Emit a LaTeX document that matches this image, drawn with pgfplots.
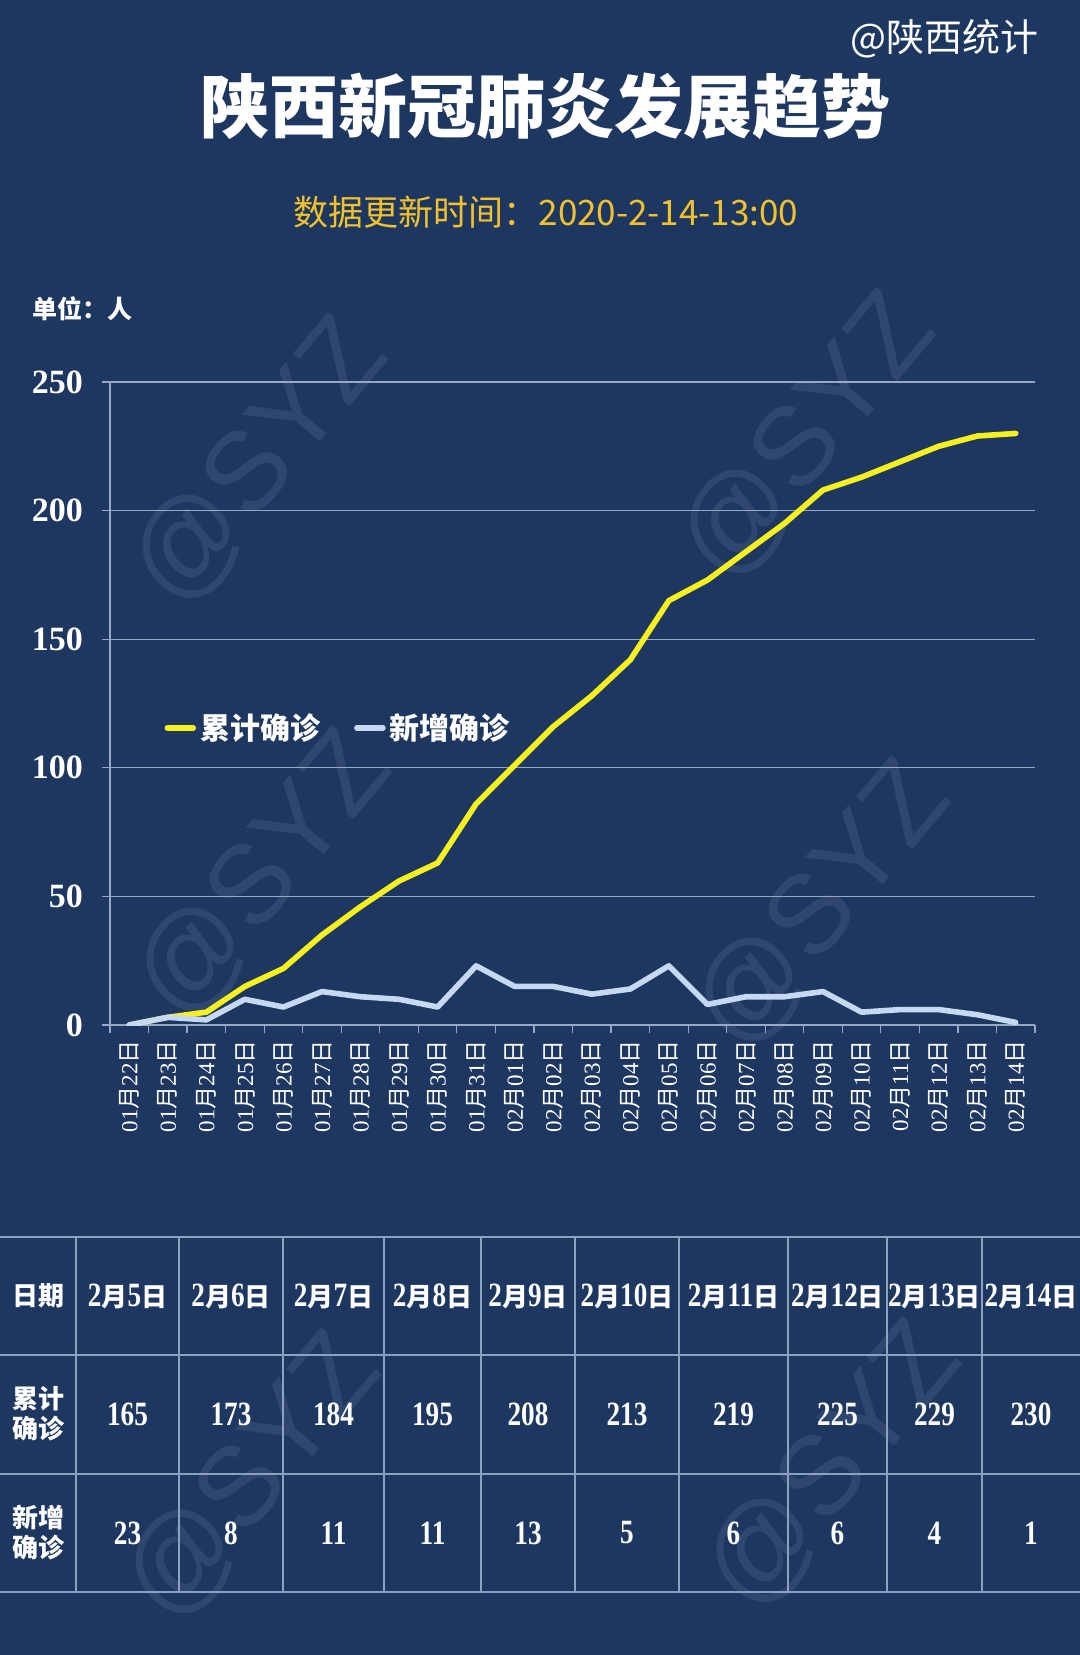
\documentclass[border=0pt]{standalone}
\usepackage{pgfplots}
\usepackage{pgfplotstable}
\pgfplotsset{compat=1.18}
\usepackage{fontspec}
\setmainfont{Liberation Serif}
\newfontfamily\cjk{Noto Sans CJK SC}
\newfontfamily\wm{Liberation Sans}
\newfontfamily\tnum{Liberation Serif}[FakeStretch=0.8]

\definecolor{bg}{RGB}{29,55,97}
\definecolor{gridc}{RGB}{150,168,196}
\definecolor{cumc}{RGB}{245,240,30}
\definecolor{newc}{RGB}{198,216,242}
\definecolor{subc}{RGB}{242,193,46}
\definecolor{tline}{RGB}{140,160,192}

% 0 = 01/22 ... 23 = 02/14
\pgfplotstableread{
i cum new
0 0 0
1 3 3
2 5 2
3 15 10
4 22 7
5 35 13
6 46 11
7 56 10
8 63 7
9 86 23
10 101 15
11 116 15
12 128 12
13 142 14
14 165 23
15 173 8
16 184 11
17 195 11
18 208 13
19 213 5
20 219 6
21 225 6
22 229 4
23 230 1
}\sxdata

\newcommand{\dl}[2]{#1{\cjk 月}#2{\cjk 日}}
\newcommand{\td}[1]{{\tnum\fontsize{17}{17}\selectfont 2}{\cjk\bfseries 月}{\tnum\fontsize{17}{17}\selectfont #1}{\cjk\bfseries 日}}

\begin{document}
\begin{tikzpicture}
\begin{scope}[x=0.5pt,y=-0.5pt]
\fill[bg] (0,0) rectangle (1080,1655);
\path[use as bounding box] (0,0) rectangle (1080,1655);
% watermarks
\foreach \px/\py in {260/463, 808/438, 264/876, 823/906, 253/1478, 834/1467}
  \node[text=bg!92!white, rotate=50, font=\wm\fontsize{56}{56}\selectfont] at (\px,\py) {@SYZ};
% header texts
\node[text=white, anchor=east, font=\cjk\fontsize{19}{19}\selectfont] at (1046,39) {@陕西统计};
\node[text=white, font=\cjk\bfseries\fontsize{34.5}{34.5}\selectfont] at (545,106) {陕西新冠肺炎发展趋势};
\node[text=subc, font=\cjk\fontsize{17.5}{17.5}\selectfont] at (546,212) {数据更新时间：2020-2-14-13:00};
\node[text=white, anchor=west, inner sep=0pt, font=\cjk\bfseries\fontsize{12.5}{12.5}\selectfont] at (32,309) {单位：人};
% table
\foreach \ry in {1237,1355,1474,1592}
  \draw[tline, line width=1pt] (0,\ry) -- (1080,\ry);
\foreach \cx in {76,179,283,384,481,575,679,788,887,982}
  \draw[tline, line width=1pt] (\cx,1237) -- (\cx,1592);
\begin{scope}[every node/.style={text=white, font=\cjk\bfseries\fontsize{13}{15}\selectfont, align=center}]
\node at (38,1296) {日期};
\node at (38,1414) {累计\\确诊};
\node at (38,1533) {新增\\确诊};
\foreach \cx/\d/\c/\n in {127.5/5/165/23, 231/6/173/8, 333.5/7/184/11, 432.5/8/195/11, 528/9/208/13,
    627/10/213/5, 733.5/11/219/6, 837.5/12/225/6, 934.5/13/229/4, 1031/14/230/1} {
  \node at (\cx,1296) {\td{\d}};
  \node[font=\tnum\bfseries\fontsize{17}{17}\selectfont] at (\cx,1414) {\c};
  \node[font=\tnum\bfseries\fontsize{17}{17}\selectfont] at (\cx,1533) {\n};
}
\end{scope}
\end{scope}

\begin{axis}[
  at={(55pt,-512.5pt)}, anchor=south west,
  scale only axis, width=462.5pt, height=321.5pt,
  xmin=-0.5, xmax=23.5, ymin=0, ymax=250,
  axis x line*=bottom, axis y line*=left,
  axis line style={draw=gridc, line width=0.6pt, -},
  ytick={0,50,...,250},
  ymajorgrids, grid style={draw=gridc, line width=0.6pt},
  xtick={0,...,23},
  xticklabels={\dl{01}{22},\dl{01}{23},\dl{01}{24},\dl{01}{25},\dl{01}{26},\dl{01}{27},\dl{01}{28},\dl{01}{29},\dl{01}{30},\dl{01}{31},
    \dl{02}{01},\dl{02}{02},\dl{02}{03},\dl{02}{04},\dl{02}{05},\dl{02}{06},\dl{02}{07},\dl{02}{08},\dl{02}{09},\dl{02}{10},\dl{02}{11},\dl{02}{12},\dl{02}{13},\dl{02}{14}},
  minor xtick={-0.5,0.5,...,23.5},
  tick align=outside, major tick length=4pt, minor tick length=4pt,
  tick style={draw=gridc, line width=0.6pt},
  major x tick style={draw=none},
  xticklabel style={rotate=90, anchor=east, text=white, font=\fontsize{11.5}{12}\selectfont},
  yticklabel style={text=white, font=\bfseries\fontsize{17}{17}\selectfont, xshift=-6pt},
  /pgf/number format/assume math mode=true,
  legend columns=2,
  legend style={at={(0.052,0.462)}, anchor=west, draw=none, fill=none, text=white,
    font=\cjk\bfseries\fontsize{15}{15}\selectfont,
    /tikz/every even column/.append style={column sep=15pt}},
  legend image code/.code={\draw[#1] (0pt,0pt) -- (13pt,0pt);},
]
\addplot[cumc, line width=2.8pt, line join=round, line cap=round] table[x=i, y=cum] {\sxdata};
\addlegendentry{累计确诊}
\addplot[newc, line width=2.8pt, line join=round, line cap=round] table[x=i, y=new] {\sxdata};
\addlegendentry{新增确诊}
\end{axis}
\end{tikzpicture}
\end{document}
